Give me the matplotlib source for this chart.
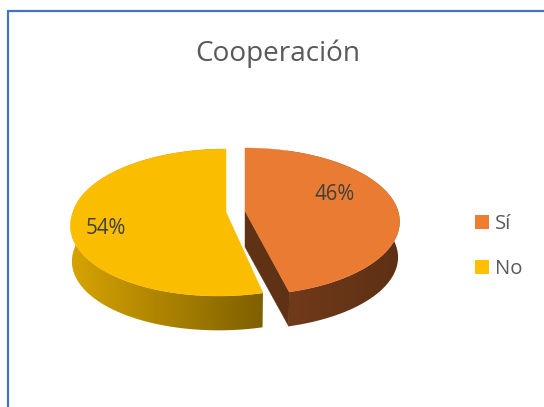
import numpy as np
import matplotlib
matplotlib.use("Agg")
import matplotlib.pyplot as plt
from matplotlib.patches import Polygon, Patch
from matplotlib.colors import LinearSegmentedColormap

title = "Cooperación"
categories = ["Sí", "No"]
shares = [46, 54]
share_labels = ["46%", "54%"]

TOP = ["#E97C32", "#FBBD00"]
LEG = ["#ED7D31", "#FFC000"]
WALL = [("#713A1B", "#5E3014"), ("#D6A300", "#7F6000")]
CUT = "#5F3115"
ORIGIN = [(245, 211), (226, 212)]
SKEW = [0.0, 0.042]
LABEL_XY = [(335, 194), (106, 228)]
R, A, K, FX, FY, DEPTH = 153, 72, 1 / 7, 0.99, 0.98, 36
TEXT = "#595959"

fig = plt.figure(figsize=(5.44, 4.07), dpi=100)
ax = fig.add_axes([0, 0, 1, 1])
ax.set_xlim(0, 544)
ax.set_ylim(407, 0)
ax.axis("off")


def project(theta, idx, lower=False):
    """Perspective view of a unit disc; theta runs clockwise from the back."""
    u, v = np.sin(theta), np.cos(theta)
    d = 1 + K * v
    x = R * (u + SKEW[idx] * np.minimum(v, 0)) / d
    y = -A * v / d
    fx, fy, dy = (FX, FY, DEPTH) if lower else (1.0, 1.0, 0)
    return ORIGIN[idx][0] + fx * x, ORIGIN[idx][1] + fy * y + dy


ax.plot([8, 8], [11, 407], color="#4472C4", lw=1.6, solid_capstyle="butt", zorder=1)
ax.plot([7.4, 544], [11, 11], color="#4472C4", lw=1.6, solid_capstyle="butt", zorder=1)

edges = np.cumsum([0] + shares) / sum(shares) * 2 * np.pi
for i, share in enumerate(shares):
    t = np.linspace(edges[i], edges[i + 1], 240)
    xt, yt = project(t, i)
    xb, yb = project(t, i, lower=True)

    # outer wall with a horizontal gradient
    wall_pts = np.r_[np.c_[xt, yt], np.c_[xb, yb][::-1]]
    wall = Polygon(wall_pts, closed=True, fc="none", ec="none", zorder=2)
    ax.add_patch(wall)
    x0, x1 = (287, 400) if i == 0 else (72, 263)
    cmap = LinearSegmentedColormap.from_list("w", WALL[i])
    im = ax.imshow(np.linspace(0, 1, 256)[None, :], cmap=cmap, aspect="auto",
                   extent=(x0, x1, 345, 140), zorder=2, interpolation="bilinear")
    im.set_clip_path(wall)

    # the cut wall facing the viewer, orange slice only
    if i == 0:
        ox, oy = ORIGIN[i]
        ax.add_patch(Polygon([(ox, oy), (xt[-1], yt[-1]), (xb[-1], yb[-1]), (ox, oy + DEPTH)],
                             closed=True, fc=CUT, ec=CUT, lw=0.3, zorder=3))

    # top face
    ax.add_patch(Polygon(np.r_[[ORIGIN[i]], np.c_[xt, yt]], closed=True,
                         fc=TOP[i], ec=TOP[i], lw=0.3, zorder=4))
    ax.text(*LABEL_XY[i], share_labels[i], ha="center", va="center",
            fontsize=14.8, color="#404040", family="Open Sans", zorder=5)

ax.set_xlim(0, 544)
ax.set_ylim(407, 0)

ax.text(278, 54, title, ha="center", va="center", fontsize=20.1,
        color=TEXT, family="Open Sans")

handles = [Patch(fc=c, ec="none") for c in LEG]
ax.legend(handles, categories, loc="center left", bbox_to_anchor=(475 / 544, 1 - 246.5 / 407),
          frameon=False, handlelength=0.69, handleheight=0.69, handletextpad=0.28,
          labelspacing=1.25, borderpad=0, borderaxespad=0,
          prop={"family": "Open Sans", "size": 14.6}, labelcolor=TEXT)

fig.savefig("out.png", dpi=100)
